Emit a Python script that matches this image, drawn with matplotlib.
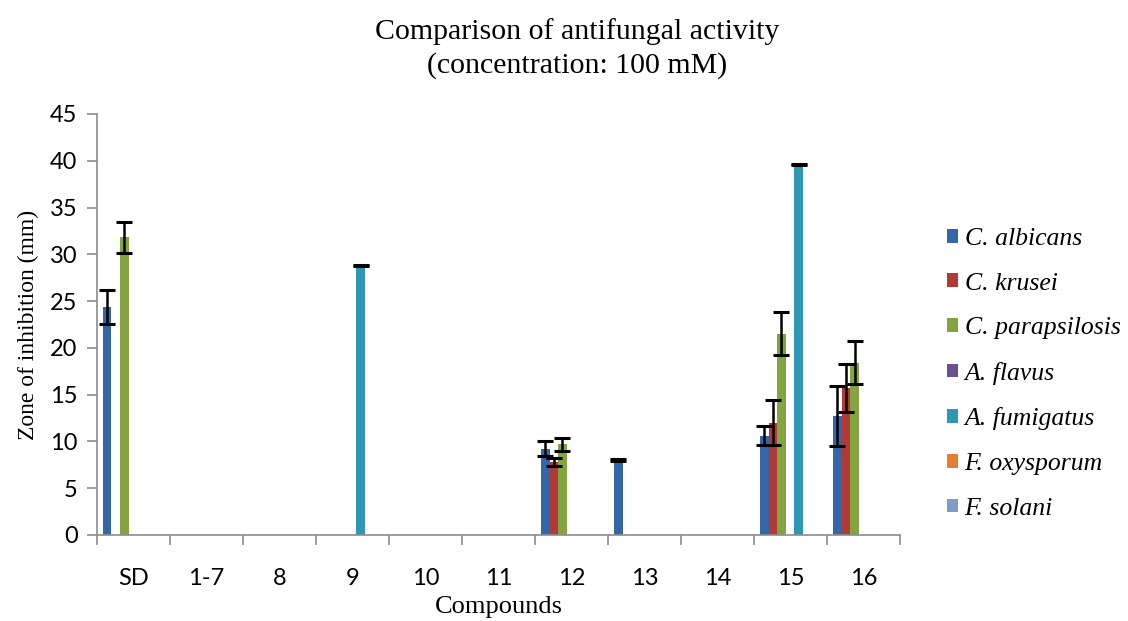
import matplotlib
matplotlib.use("Agg")
import matplotlib.pyplot as plt
import numpy as np

categories = ["SD", "1-7", "8", "9", "10", "11", "12", "13", "14", "15", "16"]
series = ["C. albicans", "C. krusei", "C. parapsilosis", "A. flavus",
          "A. fumigatus", "F. oxysporum", "F. solani"]
colors = ["#3466A8", "#B13A37", "#84A441", "#6B4F8F", "#2E97B3", "#E57E2E", "#7F9CC6"]

c_albicans      = [24.4, 0, 0, 0, 0, 0, 9.2, 8.0, 0, 10.6, 12.7]
c_krusei        = [0, 0, 0, 0, 0, 0, 7.8, 0, 0, 12.0, 15.7]
c_parapsilosis  = [31.8, 0, 0, 0, 0, 0, 9.7, 0, 0, 21.5, 18.4]
a_flavus        = [0, 0, 0, 0, 0, 0, 0, 0, 0, 0, 0]
a_fumigatus     = [0, 0, 0, 28.8, 0, 0, 0, 0, 0, 39.6, 0]
f_oxysporum     = [0, 0, 0, 0, 0, 0, 0, 0, 0, 0, 0]
f_solani        = [0, 0, 0, 0, 0, 0, 0, 0, 0, 0, 0]

err_albicans     = [1.8, 0, 0, 0, 0, 0, 0.8, 0.1, 0, 1.0, 3.2]
err_krusei       = [0, 0, 0, 0, 0, 0, 0.4, 0, 0, 2.4, 2.6]
err_parapsilosis = [1.7, 0, 0, 0, 0, 0, 0.7, 0, 0, 2.3, 2.3]
err_fumigatus    = [0, 0, 0, 0.05, 0, 0, 0, 0, 0, 0.05, 0]

values = [c_albicans, c_krusei, c_parapsilosis, a_flavus, a_fumigatus, f_oxysporum, f_solani]
errors = [err_albicans, err_krusei, err_parapsilosis, None, err_fumigatus, None, None]

fig = plt.figure(figsize=(11.28, 6.21), dpi=100)
ax = fig.add_axes([0.086, 0.1385, 0.712, 0.678])

bw = 0.118
x = np.arange(len(categories))
for i, (name, vals, col, err) in enumerate(zip(series, values, colors, errors)):
    pos = x - 0.5 + 0.08 + bw * (i + 0.5)
    ax.bar(pos, vals, width=bw, color=col, label=name, zorder=2, linewidth=0)
    if err is not None:
        v = np.array(vals, dtype=float)
        e = np.array(err, dtype=float)
        mask = (v > 0)
        ax.errorbar(pos[mask], v[mask], yerr=e[mask], fmt="none", ecolor="black",
                    elinewidth=1.8, capsize=6, capthick=2.2, zorder=3)

ax.set_xlim(-0.5, len(categories) - 0.5)
ax.set_ylim(0, 45)
ax.set_yticks(np.arange(0, 46, 5))
ax.set_xticks(x)
ax.set_xticklabels(categories, fontfamily="Lato", fontsize=17)
ax.set_xticks(np.arange(-0.5, len(categories), 1), minor=True)
ax.tick_params(axis="x", which="major", length=0, pad=24)
ax.tick_params(axis="x", which="minor", length=7, width=1.2, color="#8c8c8c", direction="out")
ax.tick_params(axis="y", length=7, width=1.2, color="#8c8c8c", direction="out", pad=7)
for lab in ax.get_yticklabels():
    lab.set_fontfamily("Lato")
    lab.set_fontsize(17)

for s in ["top", "right"]:
    ax.spines[s].set_visible(False)
for s in ["left", "bottom"]:
    ax.spines[s].set_color("#8c8c8c")
    ax.spines[s].set_linewidth(1.2)

ax.set_ylabel("Zone of inhibition (mm)", fontfamily="Liberation Serif", fontsize=17, labelpad=8)
ax.set_xlabel("Compounds", fontfamily="Liberation Serif", fontsize=19, labelpad=5)
fig.text(0.5115, 0.922, "Comparison of antifungal activity\n(concentration: 100 mM)",
         ha="center", va="center", fontfamily="Liberation Serif", fontsize=21.5, linespacing=1.32)

leg = ax.legend(loc="center left", bbox_to_anchor=(1.045, 0.383), frameon=False,
                prop={"family": "Liberation Serif", "style": "italic", "size": 18.5},
                handlelength=0.45, handleheight=0.45, handletextpad=0.25, labelspacing=0.88,
                borderaxespad=0)

fig.savefig("out.png", dpi=100)
